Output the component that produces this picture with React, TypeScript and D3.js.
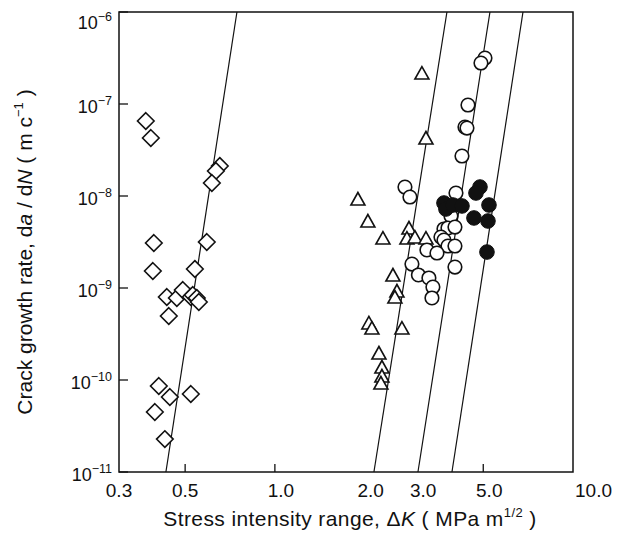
import React from "react";
import * as d3 from "d3";

// ΔK (MPa m^1/2), da/dN (m/cycle)
const diamonds: [number, number][] = [
  [0.369, 6.53e-8], [0.3836, 4.27e-8], [0.6535, 2.12e-8], [0.634, 1.87e-8], [0.6146, 1.384e-8],
  [0.3926, 3.08e-9], [0.591, 3.16e-9], [0.3896, 1.53e-9], [0.539, 1.61e-9],
  [0.434, 7.98e-10], [0.469, 7.79e-10], [0.491, 9.51e-10], [0.5224, 7.98e-10], [0.5305, 8.39e-10],
  [0.547, 7.79e-10], [0.5558, 7.04e-10], [0.4407, 4.96e-10],
  [0.408, 8.6e-11], [0.4443, 6.53e-11], [0.5224, 7.04e-11], [0.3957, 4.49e-11], [0.4275, 2.28e-11],
];

const triangles: [number, number][] = [
  [3.113, 2.17e-7], [3.212, 4.27e-8], [1.899, 9.28e-9], [2.051, 5.35e-9], [2.304, 3.49e-9],
  [2.817, 4.49e-9], [2.773, 3.49e-9], [2.95, 3.58e-9], [3.212, 3.49e-9],
  [2.489, 1.385e-9], [2.567, 9.28e-10], [2.527, 7.98e-10],
  [2.067, 4.17e-10], [2.116, 3.67e-10], [2.668, 3.67e-10],
  [2.234, 1.965e-10], [2.286, 1.385e-10], [2.286, 1.105e-10], [2.268, 9.28e-11],
];

const openCircles: [number, number][] = [
  [5.067, 3.16e-7], [4.912, 2.79e-7], [4.443, 9.75e-8], [4.341, 5.62e-8], [4.409, 5.48e-8],
  [4.242, 2.72e-8], [2.731, 1.252e-8], [2.838, 9.75e-9], [4.05, 1.078e-8],
  [3.896, 6.06e-9], [3.691, 4.38e-9], [3.807, 4.49e-9], [4.018, 4.6e-9], [3.606, 3.58e-9],
  [3.691, 3.32e-9], [3.807, 2.86e-9], [4.018, 2.86e-9], [3.236, 2.59e-9], [3.497, 2.4e-9],
  [4.018, 1.69e-9], [2.882, 1.82e-9], [3.03, 1.385e-9], [3.286, 1.285e-9], [3.389, 1.025e-9],
  [3.364, 7.79e-10],
];

const filledCircles: [number, number][] = [
  [4.875, 1.252e-8], [4.726, 1.078e-8], [3.691, 8.39e-9], [3.748, 7.22e-9], [3.956, 7.98e-9],
  [4.242, 7.79e-9], [5.226, 7.98e-9], [4.653, 5.77e-9], [5.185, 5.35e-9], [5.145, 2.46e-9],
];

// fitted lines: ΔK at da/dN = 1e-11 and at 1e-6
const fitLow = [0.431, 2.149, 3.019, 3.926];
const fitHigh = [0.746, 3.777, 5.265, 6.796];

const xTickLabels = [0.3, 0.5, 1.0, 2.0, 3.0, 5.0, 10.0];
const xTickMarks = [0.5, 1.0, 5.0];
const yTickExps = [-6, -7, -8, -9, -10, -11];

const W = 621;
const H = 533;
const L = 119, R = 573, T = 12, B = 472;
const FONT = "'Liberation Sans', Arial, sans-serif";
const INK = "#111";

export default function App() {
  const x = d3.scaleLog().domain([0.3, 10]).range([L, R]);
  const y = d3.scaleLog().domain([1e-11, 1e-6]).range([B, T]);
  const line = d3.line<[number, number]>().x((d) => x(d[0])).y((d) => y(d[1]));

  const diamondPath = "M0,-8.3L8.3,0L0,8.3L-8.3,0Z";
  const triPath = "M0,-6.5L7,6L-7,6Z";

  return (
    <svg
      width={W}
      height={H}
      style={{ position: "absolute", left: 0, top: 0, background: "#fff" }}
      fontFamily={FONT}
    >
      <rect x={0} y={0} width={W} height={H} fill="#fff" />
      {fitLow.map((lo, i) => (
        <path
          key={"fit" + i}
          d={line([[lo, 1e-11], [fitHigh[i], 1e-6]]) || ""}
          stroke={INK}
          strokeWidth={1.2}
          fill="none"
        />
      ))}
      {diamonds.map((d, i) => (
        <path
          key={"d" + i}
          d={diamondPath}
          transform={`translate(${x(d[0])},${y(d[1])})`}
          fill="#fff"
          stroke={INK}
          strokeWidth={1.6}
        />
      ))}
      {triangles.map((d, i) => (
        <path
          key={"t" + i}
          d={triPath}
          transform={`translate(${x(d[0])},${y(d[1])})`}
          fill="#fff"
          stroke={INK}
          strokeWidth={1.6}
        />
      ))}
      {openCircles.map((d, i) => (
        <circle
          key={"o" + i}
          cx={x(d[0])}
          cy={y(d[1])}
          r={6.8}
          fill="#fff"
          stroke={INK}
          strokeWidth={1.6}
        />
      ))}
      {filledCircles.map((d, i) => (
        <circle key={"f" + i} cx={x(d[0])} cy={y(d[1])} r={7.3} fill={INK} stroke={INK} strokeWidth={1} />
      ))}
      <rect x={L} y={T} width={R - L} height={B - T} fill="none" stroke={INK} strokeWidth={1.5} />
      {yTickExps.map((e) => {
        const py = y(Math.pow(10, e));
        const base = Math.max(py + 9, T + 17);
        return (
          <g key={"yt" + e}>
            <line x1={L} x2={L + 9} y1={py} y2={py} stroke={INK} strokeWidth={1.3} />
            <text x={112} y={base} textAnchor="end" fontSize={18} fill={INK}>
              10
              <tspan dy={-8} fontSize={12.5}>
                {"\u2212" + Math.abs(e)}
              </tspan>
            </text>
          </g>
        );
      })}
      {xTickMarks.map((v) => (
        <line key={"xt" + v} x1={x(v)} x2={x(v)} y1={B} y2={B - 8} stroke={INK} strokeWidth={1.3} />
      ))}
      {xTickLabels.map((v, i) => {
        const last = i === xTickLabels.length - 1;
        const px = x(v) + (last ? 2 : v >= 1 ? 6 : 0);
        return (
          <text
            key={"xl" + v}
            x={px}
            y={497}
            textAnchor={last ? "start" : "middle"}
            fontSize={19}
            fill={INK}
          >
            {v.toFixed(1)}
          </text>
        );
      })}
      <text x={350} y={526} textAnchor="middle" fontSize={21} fill={INK} letterSpacing={0.4}>
        Stress intensity range, Δ<tspan fontStyle="italic">K</tspan> ( MPa m
        <tspan dy={-9} fontSize={13}>1/2</tspan>
        <tspan dy={9}> )</tspan>
      </text>
      <text
        transform="translate(32,252) rotate(-90)"
        textAnchor="middle"
        fontSize={21}
        fill={INK}
      >
        Crack growth rate, d<tspan fontStyle="italic">a</tspan> / d<tspan fontStyle="italic">N</tspan> ( m c
        <tspan dy={-9} fontSize={13}>−1</tspan>
        <tspan dy={9}> )</tspan>
      </text>
    </svg>
  );
}
